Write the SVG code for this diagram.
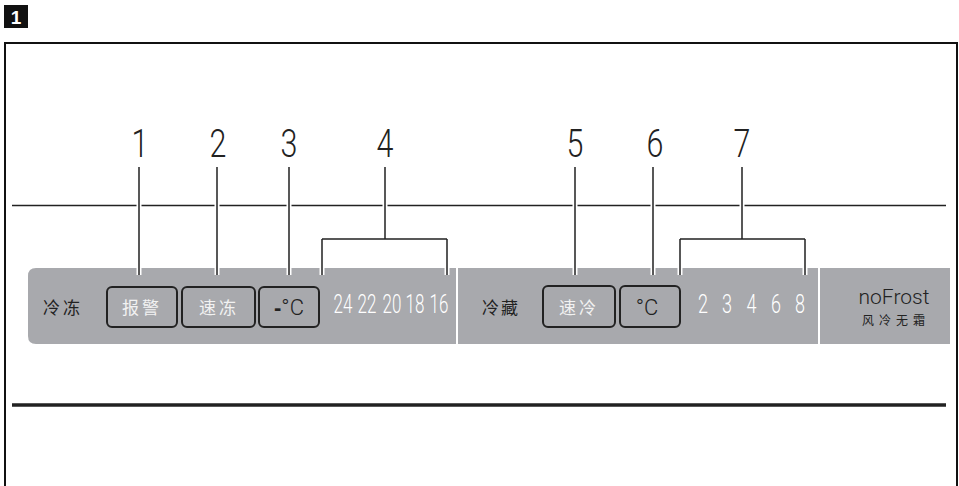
<svg xmlns="http://www.w3.org/2000/svg" width="959" height="486" viewBox="0 0 959 486">
<style>
.frame{fill:none;stroke:#111;stroke-width:2}
.panel{fill:#a8a9ad}
.btn{fill:none;stroke:#222;stroke-width:2}
.cn{font-family:"Noto Sans CJK SC",sans-serif;font-size:17px}
.dark{fill:#222}
.light{fill:#f2f2f2}
.num{font-family:"Roboto","Liberation Sans",sans-serif;font-weight:300;font-size:38px;fill:#222;text-anchor:middle}
.digits{font-family:"Roboto","Liberation Sans",sans-serif;font-weight:300;font-size:25px;fill:#fff;text-anchor:middle}
.halo{fill:none;stroke:#fff;stroke-width:5}
.lead{fill:none;stroke:#222;stroke-width:1.5}
</style>
<rect width="959" height="486" fill="#fff"/>
<g id="badge">
<rect x="4" y="5" width="24" height="23" fill="#111"/>
<text x="16" y="24" font-family="Liberation Sans,sans-serif" font-weight="bold" font-size="19" fill="#fff" text-anchor="middle">1</text>
</g>
<path class="frame" d="M5 486V43H957V486"/>
<line x1="12" y1="205.5" x2="946" y2="205.5" stroke="#222" stroke-width="1.5"/>
<line x1="12" y1="405" x2="946" y2="405" stroke="#222" stroke-width="3.5"/>
<g id="panel">
<path class="panel" d="M36 268H456V344H36Q28 344 28 336V276Q28 268 36 268Z"/>
<rect class="panel" x="458" y="268" width="360" height="76"/>
<rect class="panel" x="820" y="268" width="130" height="76"/>
</g>
<g id="connectors">
<g class="halo">
<path d="M139 167V275M217 167V275M289 167V275M385 167V239M322 239H447M322 239V275M447 239V275M575 167V275M653 167V275M742 167V239M680 239H805M680 239V275M805 239V275"/>
</g>
<g class="lead">
<path d="M139 167V275M217 167V275M289 167V275M385 167V239M322 239H447M322 239V275M447 239V275M575 167V275M653 167V275M742 167V239M680 239H805M680 239V275M805 239V275"/>
</g>
</g>
<g id="labels">
<text class="num" transform="translate(140,157) scale(0.8,1)">1</text>
<text class="num" transform="translate(218,157) scale(0.8,1)">2</text>
<text class="num" transform="translate(289,157) scale(0.8,1)">3</text>
<text class="num" transform="translate(385,157) scale(0.8,1)">4</text>
<text class="num" transform="translate(575,157) scale(0.8,1)">5</text>
<text class="num" transform="translate(655,157) scale(0.8,1)">6</text>
<text class="num" transform="translate(742,157) scale(0.8,1)">7</text>
</g>
<g id="freezer">
<text class="cn dark" x="43" y="314" letter-spacing="3">冷冻</text>
</g>
<g id="btn-alarm">
<rect class="btn" x="107" y="287" width="70" height="40" rx="5"/>
<text class="cn light" x="142" y="314" text-anchor="middle" letter-spacing="3">报警</text>
</g>
<g id="btn-superfreeze">
<rect class="btn" x="182" y="287" width="73" height="40" rx="5"/>
<text class="cn light" x="219" y="314" text-anchor="middle" letter-spacing="3">速冻</text>
</g>
<g id="btn-freezetemp">
<rect class="btn" x="259" y="287" width="60" height="40" rx="5"/>
<text x="289" y="315" text-anchor="middle" font-family="Roboto,Liberation Sans,sans-serif" font-size="22" font-weight="300" fill="#222"><tspan font-weight="900" font-family="Liberation Sans,sans-serif">-</tspan>°C</text>
</g>
<g id="freezer-scale" transform="translate(0,313) scale(0.68,1)">
<text class="digits" x="504.4" y="0">24</text>
<text class="digits" x="539.7" y="0">22</text>
<text class="digits" x="576.5" y="0">20</text>
<text class="digits" x="610.3" y="0">18</text>
<text class="digits" x="645.6" y="0">16</text>
</g>
<g id="fridge">
<text class="cn dark" x="482" y="314" letter-spacing="2">冷藏</text>
</g>
<g id="btn-supercool">
<rect class="btn" x="543" y="286" width="72" height="41" rx="5"/>
<text class="cn light" x="579" y="314" text-anchor="middle" letter-spacing="3">速冷</text>
</g>
<g id="btn-fridgetemp">
<rect class="btn" x="620" y="286" width="60" height="41" rx="5"/>
<text x="647" y="315" text-anchor="middle" font-family="Roboto,Liberation Sans,sans-serif" font-size="22" font-weight="300" fill="#222">°C</text>
</g>
<g id="fridge-scale" transform="translate(0,313) scale(0.72,1)">
<text class="digits" x="976.4" y="0">2</text>
<text class="digits" x="1009.7" y="0">3</text>
<text class="digits" x="1043.8" y="0">4</text>
<text class="digits" x="1077.8" y="0">6</text>
<text class="digits" x="1111.1" y="0">8</text>
</g>
<g id="nofrost">
<text x="894" y="304" text-anchor="middle" font-family="Roboto,Liberation Sans,sans-serif" font-weight="300" font-size="21" fill="#222">noFrost</text>
<text x="896" y="325" text-anchor="middle" font-family="Noto Sans CJK SC,sans-serif" font-size="12" fill="#222" letter-spacing="5">风冷无霜</text>
</g>
</svg>
